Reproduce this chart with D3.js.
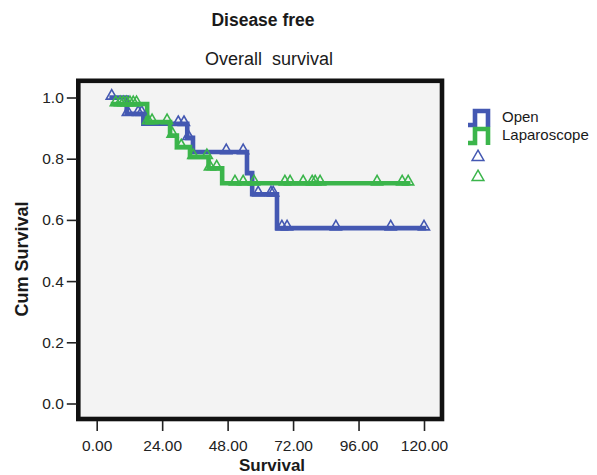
<!DOCTYPE html>
<html>
<head>
<meta charset="utf-8">
<script src="https://cdn.jsdelivr.net/npm/d3@7"></script>
<style>
  html, body { margin: 0; padding: 0; background: #ffffff; }
  svg { display: block; font-family: "Liberation Sans", Arial, Helvetica, sans-serif; }
</style>
</head>
<body>
<svg id="chart" width="597" height="475"></svg>
<script>
// ---- data ----
const groups = ["Open", "Laparoscope"];
// step function: survival value from each time onward
const openTimes = [5.5, 11, 17.1, 33.2, 35.3, 55.1, 57, 66.1, 120];
const openSurv  = [1.0, 0.947, 0.914, 0.868, 0.822, 0.753, 0.684, 0.573, 0.573];
const lapTimes  = [6, 18.5, 26.9, 29.4, 34.2, 41, 46, 114.2];
const lapSurv   = [0.979, 0.92, 0.876, 0.838, 0.806, 0.769, 0.72, 0.72];
// censored observations (times)
const openCensor = [5.5, 11.4, 15.2, 16.5, 29.9, 32, 33.6, 47.5, 53.7, 59.2, 63.9, 64.7, 67.9, 69.8, 87.7, 107.8, 120];
const lapCensor  = [7, 8.6, 9.8, 11, 12.2, 13.4, 14.6, 18.8, 20.3, 25.8, 27.8, 31, 35.4, 40.4, 41.5, 44,
                    50.7, 53.7, 57.7, 69, 70.9, 75.7, 79, 80.1, 81.9, 102.8, 112, 114.2];
const xTicks = [0, 24, 48, 72, 96, 120];
const yTicks = [0, 0.2, 0.4, 0.6, 0.8, 1.0];

// ---- layout ----
const svg = d3.select("#chart");
const blue = "#4458b2", green = "#3bb54b";
const x = d3.scaleLinear().domain([0, 120]).range([96.7, 424]);
const y = d3.scaleLinear().domain([0, 1]).range([403.5, 97.5]);
const frame = { x0: 78.3, x1: 442, y0: 80.8, y1: 419 };

// titles
svg.append("text").attr("x", 263).attr("y", 26).attr("text-anchor", "middle")
  .attr("font-size", 17.5).attr("font-weight", "bold").attr("fill", "#1a1a1a").text("Disease free");
svg.append("text").attr("x", 269).attr("y", 65).attr("text-anchor", "middle")
  .attr("font-size", 18).attr("fill", "#1a1a1a").style("white-space", "pre").text("Overall  survival");

// plot background and frame
svg.append("rect").attr("x", frame.x0).attr("y", frame.y0)
  .attr("width", frame.x1 - frame.x0).attr("height", frame.y1 - frame.y0)
  .attr("fill", "#f3f3f3").attr("stroke", "#111").attr("stroke-width", 4.6);

// axes
const yAxis = d3.axisLeft(y).tickValues(yTicks).tickFormat(d3.format(".1f")).tickSize(10).tickPadding(3);
const gy = svg.append("g").attr("transform", `translate(${frame.x0 - 1.5},0)`).call(yAxis);
const xAxis = d3.axisBottom(x).tickValues(xTicks).tickFormat(d3.format(".2f")).tickSize(10).tickPadding(9);
const gx = svg.append("g").attr("transform", `translate(0,${frame.y1 + 2})`).call(xAxis);
[gx, gy].forEach(g => {
  g.select(".domain").remove();
  g.selectAll(".tick line").attr("stroke", "#222").attr("stroke-width", 1.6);
  g.selectAll(".tick text").attr("font-size", 15.5).attr("fill", "#222")
    .attr("font-family", "Liberation Sans, Arial, sans-serif");
});

// axis titles
svg.append("text").attr("x", 272).attr("y", 470.5).attr("text-anchor", "middle")
  .attr("font-size", 17).attr("font-weight", "bold").attr("fill", "#1a1a1a").text("Survival");
svg.append("text").attr("transform", "translate(28,259) rotate(-90)").attr("text-anchor", "middle")
  .attr("font-size", 18).attr("font-weight", "bold").attr("fill", "#1a1a1a").text("Cum Survival");

// curves
const line = d3.line().x(d => x(d[0])).y(d => y(d[1])).curve(d3.curveStepAfter);
function stepVal(times, surv, t) {
  const i = d3.bisectRight(times, t) - 1;
  return surv[Math.max(0, i)];
}
const series = [
  { name: groups[0], times: openTimes, surv: openSurv, cens: openCensor, color: blue },
  { name: groups[1], times: lapTimes, surv: lapSurv, cens: lapCensor, color: green }
];
series.forEach(s => {
  svg.append("path").datum(s.times.map((t, i) => [t, s.surv[i]]))
    .attr("d", line).attr("fill", "none").attr("stroke", s.color)
    .attr("stroke-width", 4.6).attr("stroke-linejoin", "miter").attr("stroke-linecap", "square");
});
const tri = d3.symbol().type(d3.symbolTriangle).size(52);
series.forEach(s => {
  svg.append("g").selectAll("path").data(s.cens).join("path")
    .attr("d", tri)
    .attr("transform", d => `translate(${x(d)},${y(stepVal(s.times, s.surv, d)) - 1.5})`)
    .attr("fill", "none").attr("stroke", s.color).attr("stroke-width", 1.6);
});

// legend
const leg = svg.append("g");
const legItems = [
  { label: groups[0], color: blue, yb: 127 },
  { label: groups[1], color: green, yb: 145 }
];
legItems.forEach(it => {
  leg.append("path")
    .attr("d", `M468,${it.yb - 2} H475 V${it.yb - 16} H488 V${it.yb}`)
    .attr("fill", "none").attr("stroke", it.color).attr("stroke-width", 4.6);
  leg.append("text").attr("x", 502).attr("y", it.yb - 5).attr("font-size", 15)
    .attr("fill", "#1a1a1a").text(it.label);
});
[{ color: blue, cy: 157 }, { color: green, cy: 177 }].forEach(it => {
  leg.append("path").attr("d", d3.symbol().type(d3.symbolTriangle).size(60))
    .attr("transform", `translate(478,${it.cy})`)
    .attr("fill", "none").attr("stroke", it.color).attr("stroke-width", 1.5);
});
</script>
</body>
</html>
